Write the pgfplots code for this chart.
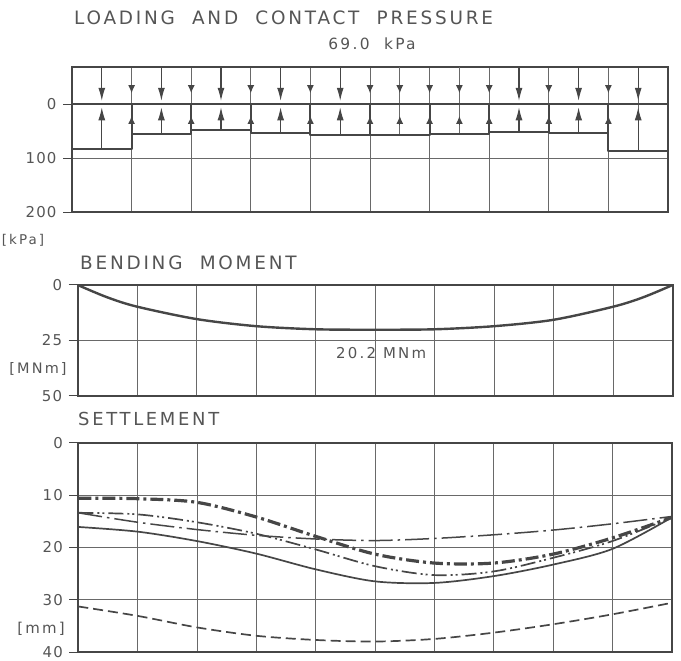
\documentclass[border=0pt]{standalone}
\usepackage{pgfplots}
\pgfplotsset{compat=1.18}
\usepackage{fontspec}
\setmainfont{DejaVu Sans}
\newfontfamily\lett{DejaVu Sans}[LetterSpace=15]
\newfontfamily\lettw{DejaVu Sans}[LetterSpace=8]
\usetikzlibrary{arrows.meta}
\definecolor{ink}{RGB}{70,70,70}
\definecolor{gridc}{RGB}{105,105,105}
\definecolor{txt}{RGB}{85,85,85}
\pgfplotsset{
  panel/.style={
    scale only axis, anchor=south west,
    xmin=0, xmax=10, xtick={1,2,3,4,5,6,7,8,9}, xticklabels={},
    xtick style={draw=none},
    xmajorgrids, ymajorgrids,
    grid style={gridc, line width=0.9bp},
    axis line style={ink, line width=1.8bp},
    y dir=reverse,
    ytick pos=left, tick align=outside, major tick length=9bp,
    ytick style={ink, line width=1bp},
    yticklabel style={font=\fontsize{15}{15}\selectfont\lettw, text=txt, xshift=-3bp},
    /pgf/number format/assume math mode=true,
  }
}
\begin{document}
\begin{tikzpicture}
\useasboundingbox (0bp,0bp) rectangle (681bp,661bp);

% ---------- titles and units ----------
\begin{scope}[every node/.style={text=txt, inner sep=0pt}]
\node[anchor=west, font=\fontsize{18.5}{18.5}\selectfont\lett] at (74bp,643.5bp) {LOADING\ \ AND\ \ CONTACT\ \ PRESSURE};
\node[font=\fontsize{15.5}{15.5}\selectfont\lett] at (372bp,617bp) {69.0\ \ kPa};
\node[font=\fontsize{13.5}{13.5}\selectfont\lett] at (23bp,421bp) {[kPa]};
\node[anchor=west, font=\fontsize{18.5}{18.5}\selectfont\lett] at (80bp,398.5bp) {BENDING\ \ MOMENT};
\node[font=\fontsize{14.5}{14.5}\selectfont\lett] at (38bp,292bp) {[MNm]};
\node[anchor=west, font=\fontsize{18}{18}\selectfont\lett] at (78bp,242bp) {SETTLEMENT};
\node[font=\fontsize{15}{15}\selectfont\lett] at (41bp,32bp) {[mm]};
\end{scope}

% ---------- loading and contact pressure ----------
\begin{axis}[panel, at={(72bp,448.7bp)}, width=596bp, height=145.6bp,
  ymin=-69, ymax=200, ytick={0,100,200}]
\addplot[gridc, line width=0.9bp] coordinates {(5.5,-69)(5.5,58)};
\addplot[gridc, line width=0.9bp] coordinates {(6.5,-69)(6.5,55)};
\addplot[gridc, line width=0.9bp] coordinates {(9.5,-69)(9.5,86)};
\addplot[ink, line width=2bp, line join=round] coordinates {
(0,0)(0,82.6)(1,82.6)(1,0)(1,56)(2,56)(2,0)(2,47.5)(3,47.5)(3,0)(3,53)(4,53)(4,0)
(4,57)(5,57)(5,0)(5,58)(6,58)(6,0)(6,55)(7,55)(7,0)(7,51)(8,51)(8,0)(8,53)(9,53)(9,0)
(9,86)(10,86)(10,0)};
\addplot[ink, line width=2bp] coordinates {(0,0)(10,0)};
% loading arrows (down) and contact pressure arrows (up)
\addplot[ink, line width=1.1bp, -{Latex[length=13bp,width=7bp]},
  quiver={u=0, v=\thisrow{v}}] table {
x y v
0.5 -69 63
1.5 -69 63
2.5 -69 63
3.5 -69 63
4.5 -69 63
7.5 -69 63
8.5 -69 63
9.5 -69 63
};
\addplot[ink, line width=1.1bp, -{Latex[length=13bp,width=7bp]},
  quiver={u=0, v=\thisrow{v}}] table {
x y v
0.5 82.6 -76.6
1.5 56 -50
2.5 47.5 -41.5
3.5 53 -47
4.5 57 -51
7.5 51 -45
8.5 53 -47
9.5 86 -80
};
\addplot[ink, line width=1.2bp, -{Latex[length=8bp,width=7bp]},
  quiver={u=0, v=\thisrow{v}}] table {
x y v
1 -36 16
2 -36 16
3 -36 16
4 -36 16
5 -36 16
5.5 -36 16
6 -36 16
6.5 -36 16
7 -36 16
8 -36 16
9 -36 16
};
\addplot[ink, line width=1.2bp, -{Latex[length=8bp,width=7bp]},
  quiver={u=0, v=\thisrow{v}}] table {
x y v
1 38 -16
2 38 -16
3 38 -16
4 38 -16
5 38 -16
5.5 38 -16
6 38 -16
6.5 38 -16
7 38 -16
8 38 -16
9 38 -16
};
\end{axis}

% ---------- bending moment ----------
\begin{axis}[panel, at={(77.7bp,265.3bp)}, width=595bp, height=110.7bp,
  ymin=0, ymax=50, ytick={0,25,50}]
\addplot[ink, line width=2.4bp, smooth] coordinates {
(0,0)(0.5,5.6)(1,9.8)(2,15.4)(3,18.6)(4,20.0)(5,20.2)(6,20.0)(7,18.6)(8,15.7)(9,9.8)(9.5,5.6)(10,0)};
\addplot[ink, line width=2.6bp] coordinates {(0,0)(10,0)};
\node[text=txt, font=\fontsize{15}{15}\selectfont\lett] at (axis cs:5.1,30.7) {20.2 MNm};
\end{axis}

% ---------- settlement ----------
\begin{axis}[panel, at={(78.3bp,9bp)}, width=593.4bp, height=209.3bp,
  ymin=0, ymax=40, ytick={0,10,20,30,40}]
\addplot[ink, line width=1.7bp, smooth] coordinates {
(0,16.1)(1,17.0)(2,18.8)(3,21.2)(4,24.2)(5,26.5)(6,26.8)(7,25.5)(8,23.3)(9,20.3)(10,14.3)};
\addplot[ink, line width=1.7bp, smooth, dash pattern=on 10bp off 5bp] coordinates {
(0,31.3)(1,33.1)(2,35.3)(3,36.9)(4,37.7)(5,38.0)(6,37.5)(7,36.3)(8,34.7)(9,32.8)(10,30.6)};
\addplot[ink, line width=3.2bp, smooth, dash pattern=on 13bp off 4bp on 3bp off 4bp] coordinates {
(0,10.6)(1,10.7)(2,11.4)(3,14.2)(4,17.9)(5,21.3)(6,23.0)(7,23.0)(8,21.3)(9,18.2)(10,14.3)};
\addplot[ink, line width=1.7bp, smooth, dash pattern=on 15bp off 4bp on 2bp off 3bp on 2bp off 4bp] coordinates {
(0,13.4)(1,13.7)(2,15.2)(3,17.4)(4,20.4)(5,23.6)(6,25.3)(7,24.6)(8,22.0)(9,18.8)(10,14.3)};
\addplot[ink, line width=1.5bp, smooth, dash pattern=on 24bp off 5bp on 2.5bp off 5bp] coordinates {
(0,13.4)(1,15.2)(2,16.6)(3,17.7)(4,18.4)(5,18.7)(6,18.3)(7,17.6)(8,16.7)(9,15.5)(10,14.1)};
\addplot[ink, line width=2.4bp] coordinates {(0,0)(10,0)};
\end{axis}
\end{tikzpicture}
\end{document}
